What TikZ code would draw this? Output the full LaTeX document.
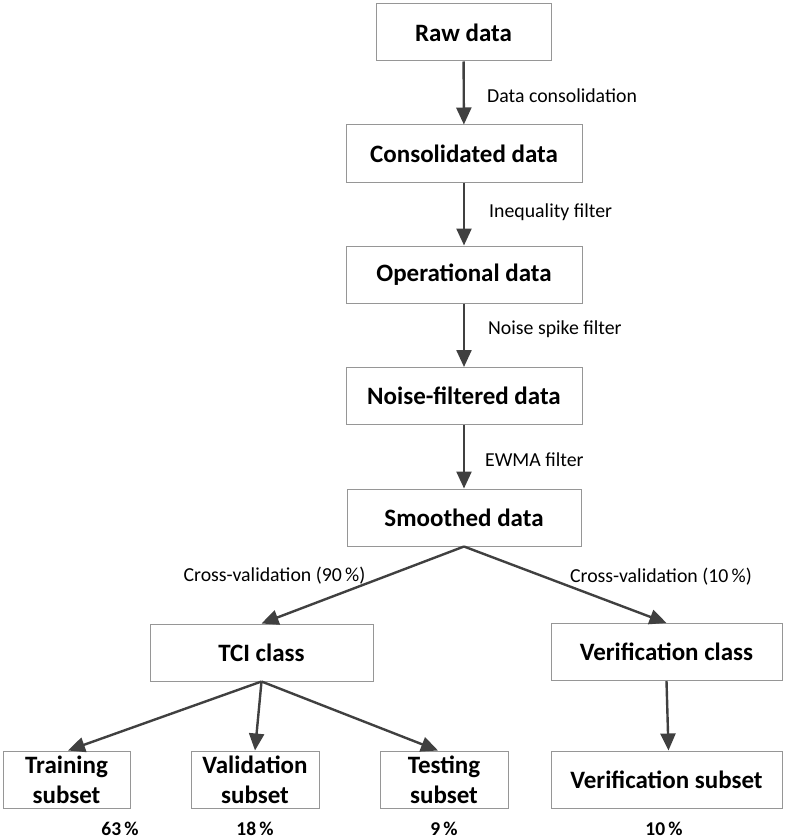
\documentclass[tikz,border=0pt]{standalone}
\usepackage{fontspec}
\setmainfont{Carlito}
\usetikzlibrary{arrows.meta}
\definecolor{boxline}{RGB}{150,150,150}
\definecolor{flow}{RGB}{64,64,64}
\begin{document}
\begin{tikzpicture}[x=1pt,y=-1pt,
  stagebox/.style={draw=boxline, line width=1pt, fill=white, inner sep=0pt,
    minimum height=57pt, align=center, font=\fontsize{25}{30}\selectfont\bfseries},
  flowarrow/.style={draw=flow, line width=2.4pt,
    -{Triangle[length=17pt,width=15pt]}},
  steplabel/.style={anchor=west, inner sep=0pt, font=\fontsize{19.8}{22}\selectfont},
  splitlabel/.style={inner sep=0pt, font=\fontsize{19.8}{22}\selectfont},
  share/.style={inner sep=0pt, font=\fontsize{19.5}{22}\selectfont\bfseries}]
\useasboundingbox (0,0) rectangle (785,840);

% processing chain
\node[stagebox, minimum width=175pt] (raw)    at (463.5,32.5) {Raw data};
\node[stagebox, minimum width=236pt] (cons)   at (464,153.5)  {Consolidated data};
\node[stagebox, minimum width=236pt] (oper)   at (464,274.5)  {Operational data};
\node[stagebox, minimum width=236pt] (noise)  at (464,396)    {Noise-filtered data};
\node[stagebox, minimum width=234pt] (smooth) at (464,517.5)  {Smoothed data};

% classes
\node[stagebox, minimum width=223pt] (tci)    at (261.5,652.5) {TCI class};
\node[stagebox, minimum width=231pt] (verc)   at (666.5,652)   {Verification class};

% subsets
\node[stagebox, minimum width=127pt] (train) at (66.5,779.5) {Training\\subset};
\node[stagebox, minimum width=128pt] (valid) at (255,779.5)  {Validation\\subset};
\node[stagebox, minimum width=128pt] (test)  at (444,779.5)  {Testing\\subset};
\node[stagebox, minimum width=231pt] (vers)  at (666.5,779.5) {Verification subset};

% shares of the data
\node[share] (ptrain) at (120,829) {63\,\%};
\node[share] (pvalid) at (255,829) {18\,\%};
\node[share] (ptest)  at (444,829) {9\,\%};
\node[share] (pvers)  at (664,829) {10\,\%};

% connectors
\draw[flowarrow] (raw)   -- (cons);
\draw[flowarrow] (cons)  -- (oper);
\draw[flowarrow] (oper)  -- (noise);
\draw[flowarrow] (noise) -- (smooth);
\draw[flowarrow] (smooth.south) -- (tci.north);
\draw[flowarrow] (smooth.south) -- (verc.north);
\draw[flowarrow] (tci.south) -- ([xshift=1.5pt]train.north);
\draw[flowarrow] (tci.south) -- (valid.north);
\draw[flowarrow] (tci.south) -- ([xshift=-6pt]test.north);
\draw[flowarrow] (verc.south) -- ([xshift=2pt]vers.north);

% connector labels
\node[steplabel] (l1) at (487,96)  {Data consolidation};
\node[steplabel] (l2) at (489,212) {Inequality filter};
\node[steplabel] (l3) at (488,329) {Noise spike filter};
\node[steplabel] (l4) at (485,460) {EWMA filter};
\node[splitlabel] (l5) at (274.5,576) {Cross-validation (90\,\%)};
\node[splitlabel] (l6) at (661,577)   {Cross-validation (10\,\%)};
\end{tikzpicture}
\end{document}
